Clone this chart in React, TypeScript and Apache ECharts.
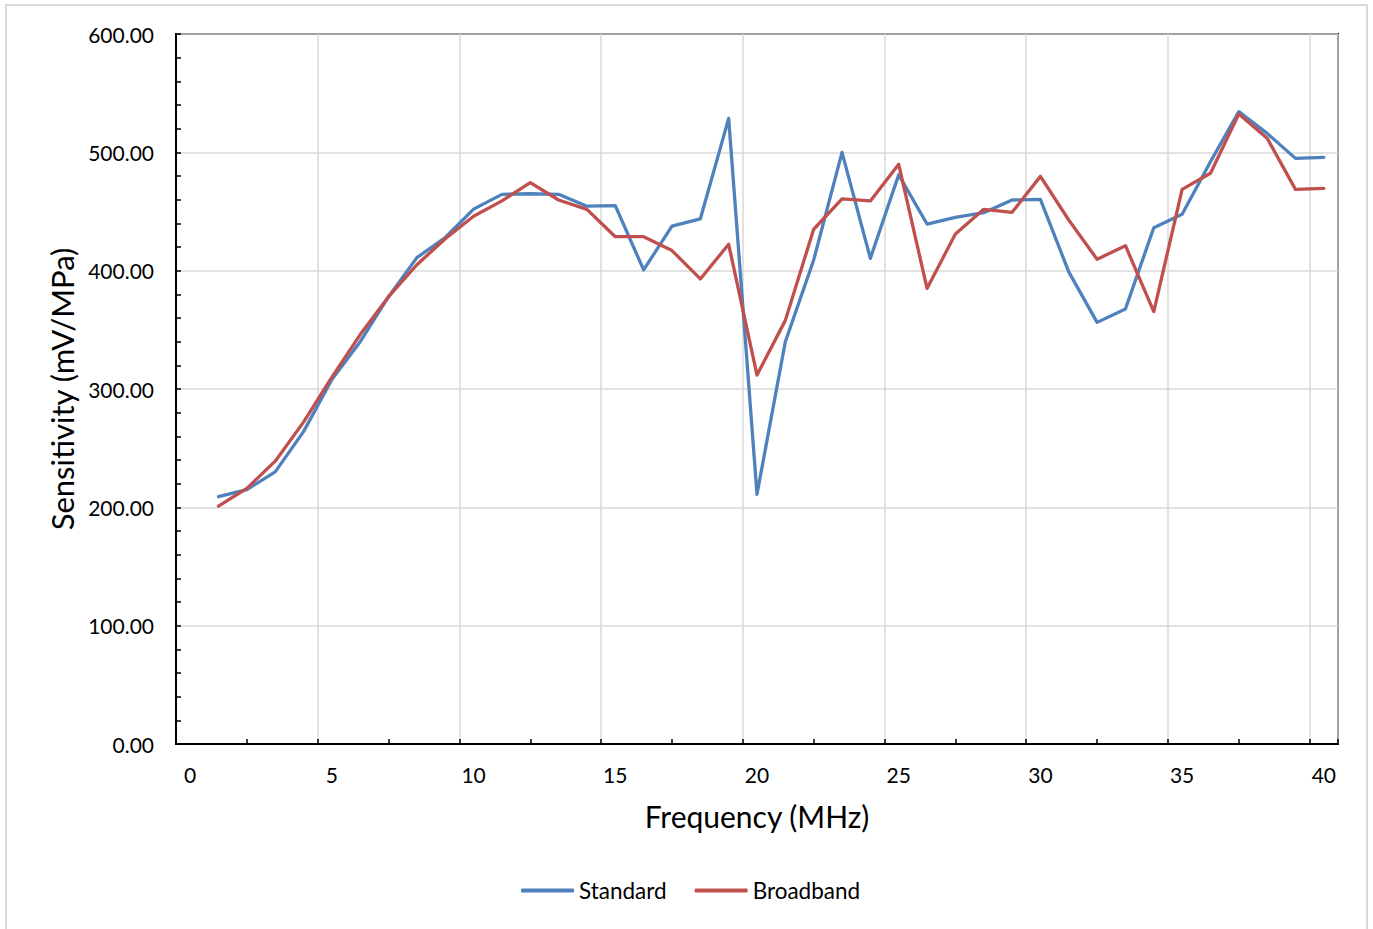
import React, { useEffect, useRef } from "react";
import * as echarts from "echarts";

const frequencies = [
  1, 2, 3, 4, 5, 6, 7, 8, 9, 10, 11, 12, 13, 14, 15, 16, 17, 18, 19, 20,
  21, 22, 23, 24, 25, 26, 27, 28, 29, 30, 31, 32, 33, 34, 35, 36, 37, 38, 39, 40,
];

const standard = [
  209, 215, 230, 264, 308, 340, 378, 411, 428, 452,
  464.5, 465, 464.5, 454.5, 455, 400.6, 437.7, 443.7, 528.7, 211,
  340, 409, 500, 410.4, 481, 439.4, 445, 449, 459.7, 460.3,
  399, 356.3, 367.6, 436.3, 447.6, 492, 534.4, 516, 494.9, 495.8,
];

const broadband = [
  201, 216, 239, 272, 310, 346, 378, 405, 427, 446,
  459, 474.4, 459.7, 451.8, 428.7, 428.7, 417, 393, 422.3, 311.8,
  358, 435, 460.6, 458.9, 489.9, 385, 431, 451.8, 449.3, 479.7,
  442.8, 409.6, 421.1, 365.4, 468.7, 482.3, 532.4, 511.9, 468.7, 469.6,
];

const seriesNames = ["Standard", "Broadband"];
const seriesColors = ["#4F81BD", "#C0504D"];
const xAxisTitle = "Frequency (MHz)";
const yAxisTitle = "Sensitivity (mV/MPa)";

const FONT = "Lato";

export default function App() {
  const ref = useRef<HTMLDivElement>(null);

  useEffect(() => {
    if (!ref.current) return;
    const chart = echarts.init(ref.current, undefined, { renderer: "svg" });

    const toPairs = (ys: number[]) => ys.map((y, i) => [frequencies[i], y]);

    const option: any = {
      animation: false,
      backgroundColor: "#ffffff",
      textStyle: { fontFamily: FONT },
      graphic: [
        {
          type: "rect",
          shape: { x: 6, y: 5, width: 1361, height: 940 },
          style: { fill: "none", stroke: "#d9d9d9", lineWidth: 2 },
          silent: true,
        },
      ],
      grid: [
        {
          left: 176,
          top: 34,
          width: 1162,
          height: 710,
          show: true,
          borderColor: "#000000",
          borderWidth: 2,
          backgroundColor: "transparent",
        },
        {
          left: 190.17,
          top: 34,
          width: 1133.66,
          height: 710,
        },
      ],
      xAxis: [
        {
          gridIndex: 0,
          type: "value",
          position: "bottom",
          min: -0.5,
          max: 40.5,
          interval: 2.5,
          axisLine: { show: true, onZero: false, lineStyle: { color: "#000000", width: 2 } },
          axisTick: { show: true, inside: true, length: 5, lineStyle: { color: "#000000", width: 1.5 } },
          axisLabel: { show: false },
          splitLine: { show: false },
        },
        {
          gridIndex: 0,
          type: "value",
          position: "top",
          min: -0.5,
          max: 40.5,
          interval: 5,
          axisLine: { show: false, onZero: false },
          axisTick: { show: false },
          axisLabel: { show: false },
          splitLine: { show: true, lineStyle: { color: "#d9d9d9", width: 1.5 } },
        },
        {
          gridIndex: 1,
          type: "value",
          position: "bottom",
          min: 0,
          max: 40,
          interval: 5,
          axisLine: { show: false, onZero: false },
          axisTick: { show: false },
          splitLine: { show: false },
          axisLabel: {
            show: true,
            fontSize: 21,
            color: "#000000",
            fontFamily: FONT,
            margin: 20,
          },
          name: xAxisTitle,
          nameLocation: "middle",
          nameGap: 57,
          nameTextStyle: { fontSize: 30, color: "#000000", fontFamily: FONT },
        },
      ],
      yAxis: [
        {
          gridIndex: 0,
          type: "value",
          min: 0,
          max: 600,
          interval: 100,
          axisLine: { show: true, onZero: false, lineStyle: { color: "#000000", width: 2 } },
          axisTick: { show: true, inside: true, length: 5, lineStyle: { color: "#000000", width: 1.5 } },
          minorTick: { show: true, splitNumber: 5, length: 5, lineStyle: { color: "#000000", width: 1.5 } },
          axisLabel: {
            show: true,
            fontSize: 21,
            color: "#000000",
            fontFamily: FONT,
            margin: 22,
            formatter: (v: number) => v.toFixed(2),
          },
          splitLine: { show: true, lineStyle: { color: "#d9d9d9", width: 1.5 } },
          name: yAxisTitle,
          nameLocation: "middle",
          nameRotate: 90,
          nameGap: 96,
          nameTextStyle: { fontSize: 31, color: "#000000", fontFamily: FONT },
        },
        {
          gridIndex: 1,
          type: "value",
          min: 0,
          max: 600,
          show: false,
          axisLine: { show: false, onZero: false },
        },
      ],
      legend: {
        left: 521,
        top: 879,
        padding: 0,
        itemWidth: 53,
        itemHeight: 4,
        itemGap: 28,
        textStyle: { fontSize: 22.5, color: "#000000", fontFamily: FONT },
        data: seriesNames.map((n, i) => ({
          name: n,
          icon: "roundRect",
          itemStyle: { color: seriesColors[i], borderWidth: 0 },
        })),
      },
      series: [
        {
          name: seriesNames[0],
          type: "line",
          xAxisIndex: 2,
          yAxisIndex: 1,
          data: toPairs(standard),
          symbol: "none",
          showSymbol: false,
          color: seriesColors[0],
          lineStyle: { color: seriesColors[0], width: 3.3, cap: "round", join: "round" },
          z: 3,
        },
        {
          name: seriesNames[1],
          type: "line",
          xAxisIndex: 2,
          yAxisIndex: 1,
          data: toPairs(broadband),
          symbol: "none",
          showSymbol: false,
          color: seriesColors[1],
          lineStyle: { color: seriesColors[1], width: 3.3, cap: "round", join: "round" },
          z: 4,
        },
      ],
    };

    chart.setOption(option);
    return () => {
      chart.dispose();
    };
  }, []);

  return (
    <div
      ref={ref}
      style={{ position: "absolute", left: 0, top: 0, width: 1373, height: 929 }}
    />
  );
}
